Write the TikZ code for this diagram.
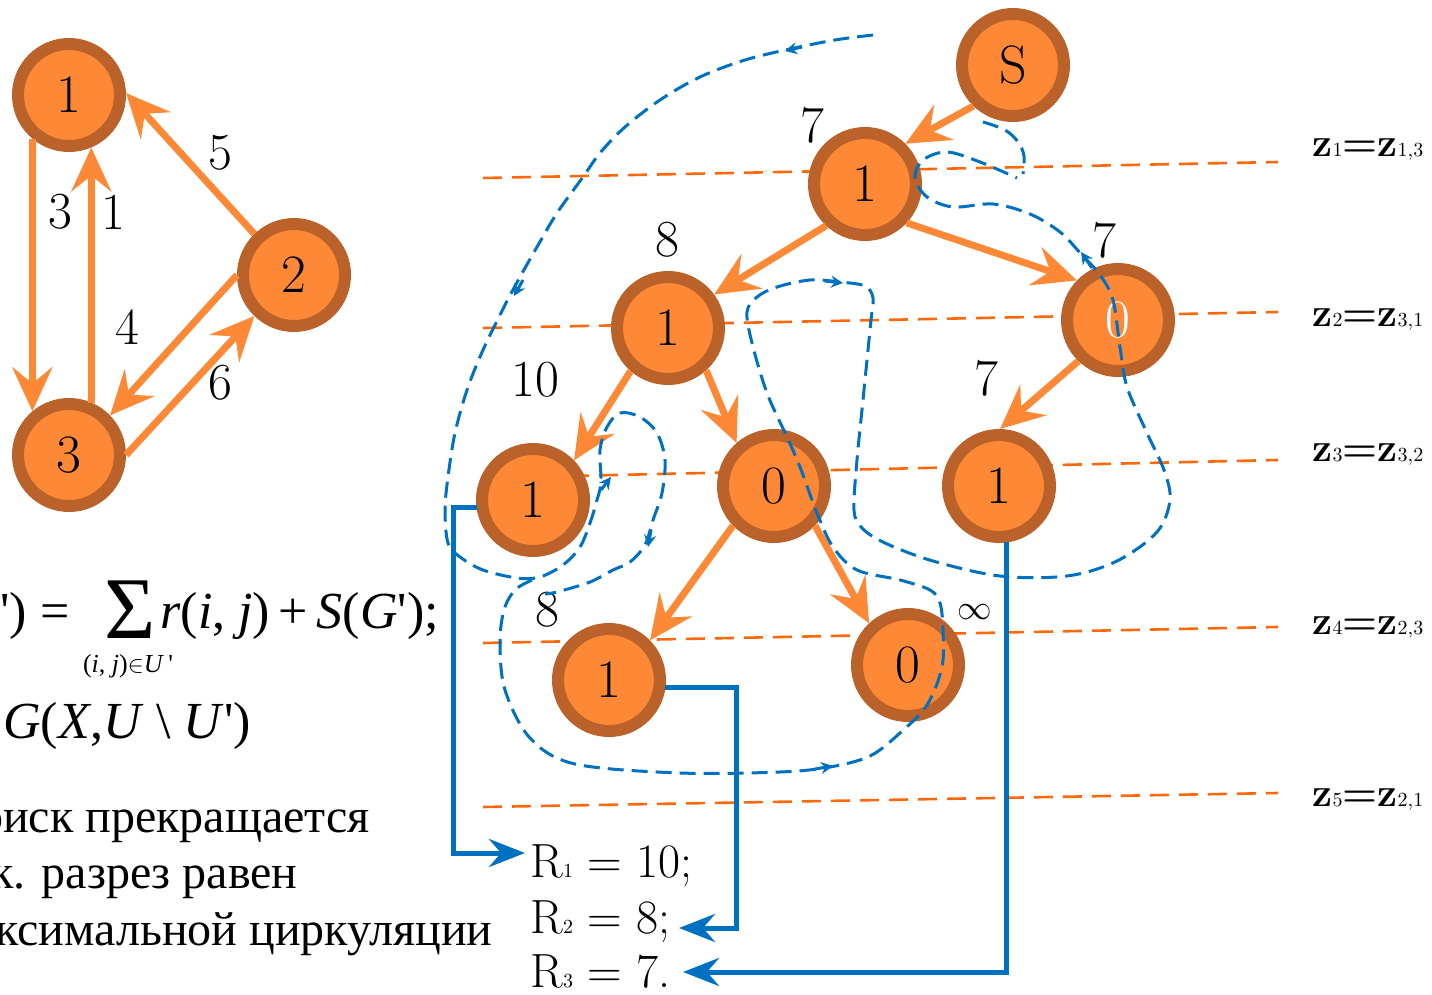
\documentclass[tikz,border=0pt]{standalone}
\usepackage{fontspec}
\usepackage{tikz}
\usetikzlibrary{arrows.meta, positioning, calc}
\newfontfamily\rufont{Liberation Serif}
\definecolor{vfill}{RGB}{253,137,54}
\definecolor{vrim}{RGB}{187,98,43}
\definecolor{cutline}{RGB}{255,104,10}
\definecolor{flow}{RGB}{0,112,192}

\begin{document}
\begin{tikzpicture}[x=0.5pt, y=-0.5pt,
  vert/.style={circle, draw=vrim, fill=vfill, line width=6pt, minimum size=51pt, inner sep=0pt, font=\fontsize{27}{27}\selectfont},
  arc/.style={vfill, line width=3.5pt, -{Stealth[length=22pt, width=20pt, inset=8pt]}},
  cut/.style={cutline, line width=1.3pt, dash pattern=on 9.5pt off 5pt},
  lbl/.style={inner sep=0pt, font=\fontsize{26}{26}\selectfont},
  zlbl/.style={inner sep=0pt, font=\fontsize{20}{20}\selectfont},
  rlbl/.style={inner sep=0pt, anchor=base west, font=\fontsize{24}{24}\selectfont},
  frm/.style={inner sep=0pt, font=\rufont\fontsize{26}{26}\selectfont},
  rutext/.style={inner sep=0pt, anchor=base east, font=\rufont\fontsize{24}{24}\selectfont},
  res/.style={flow, line width=2.5pt, -{Stealth[length=18pt, width=14pt, inset=6pt]}},
  walk/.style={flow, line width=1.5pt, dash pattern=on 8pt off 4pt},
  tick/.style={flow, line width=1.5pt, -{Stealth[length=6pt, width=6pt, inset=2pt]}},
  ]
\useasboundingbox (0,0) rectangle (1432,995);
\clip (0,0) rectangle (1432,995);

% cut lines
\draw[cut] (483,178) -- (1278,162);
\draw[cut] (483,328) -- (1278,312);
\draw[cut] (483,478) -- (1278,460);
\draw[cut] (483,643) -- (1278,627);
\draw[cut] (483,807) -- (1278,793);

% small graph
\node[vert] (v1) at (69,95) {1};
\node[vert] (v2) at (294,275) {2};
\node[vert] (v3) at (69,455) {3};
\draw[arc] (v1.230) -- (v3.130);
\draw[arc] (v3.67) -- (v1.293);
\draw[arc] (v2.134) -- (v1.2);
\draw[arc] (v2.180) -- (v3.44);
\draw[arc] (v3.0) -- (v2.226);
\node[lbl] (w5) at (220,153) {5};
\node[lbl] (w3) at (60,212) {3};
\node[lbl] (w1) at (113,212) {1};
\node[lbl] (w4) at (127,327) {4};
\node[lbl] (w6) at (220,383) {6};

% search tree
\node[vert] (s) at (1013,65) {S};
\node[vert] (a) at (865,184) {1};
\node[vert] (b) at (668,328) {1};
\node[vert] (c) at (1118,320) {\color{white}0};
\node[vert] (d) at (533,500) {1};
\node[vert] (e) at (774,486) {0};
\node[vert] (f) at (999,486) {1};
\node[vert] (g) at (609,680) {1};
\node[vert] (h) at (908,665) {0};
\draw[arc] (s.226) -- (a.45);
\draw[arc] (a.227) -- (b.36);
\draw[arc] (a.-43) -- (c.136);
\draw[arc] (b.229) -- (d.44);
\draw[arc] (b.-48) -- (e.131);
\draw[arc] (c.226) -- (f.89);
\draw[arc] (e.224) -- (g.44);
\draw[arc] (e.-44) -- (h.133);
\node[lbl] (ka) at (812,125) {7};
\node[lbl] (kb) at (667,240) {8};
\node[lbl] (kc) at (1104,240) {7};
\node[lbl] (kd) at (535,380) {10};
\node[lbl] (kf) at (986,378) {7};
\node[lbl] (kg) at (547,610) {8};
\node[lbl, font=\fontsize{18}{18}\selectfont] (kh) at (975,612) {$\infty$};

% levels
\node[zlbl] (z1) at (1368,150) {\textbf{z}{\fontsize{10}{10}\selectfont 1}\textbf{=}\textbf{z}{\fontsize{10}{10}\selectfont 1,3}};
\node[zlbl] (z2) at (1368,320) {\textbf{z}{\fontsize{10}{10}\selectfont 2}\textbf{=}\textbf{z}{\fontsize{10}{10}\selectfont 3,1}};
\node[zlbl] (z3) at (1368,455) {\textbf{z}{\fontsize{10}{10}\selectfont 3}\textbf{=}\textbf{z}{\fontsize{10}{10}\selectfont 3,2}};
\node[zlbl] (z4) at (1368,628) {\textbf{z}{\fontsize{10}{10}\selectfont 4}\textbf{=}\textbf{z}{\fontsize{10}{10}\selectfont 2,3}};
\node[zlbl] (z5) at (1368,800) {\textbf{z}{\fontsize{10}{10}\selectfont 5}\textbf{=}\textbf{z}{\fontsize{10}{10}\selectfont 2,1}};

% walk round the tree
\draw[walk] plot[smooth, tension=0.55] coordinates {(873,35) (835,40) (790,49) (745,60) (700,77) (660,100) (625,127) (600,153) (583,177) (557,213) (537,247) (520,277) (505,305) (483,350) (467,390) (455,433) (448,477) (445,510) (448,543) (460,557) (483,570) (517,578) (540,577) (563,565) (580,547) (590,523) (597,500) (601,482) (600,450) (607,427) (620,413) (640,417) (657,433) (665,460) (662,493) (653,520) (645,545) (630,562) (613,570) (590,582) (557,592) (545,594)};
\draw[walk] plot[smooth, tension=0.55] coordinates {(532,580) (515,590) (504,610) (500,643) (505,690) (530,738) (575,764) (680,773) (780,772) (830,767) (870,756) (900,733) (927,705) (942,667) (943,630) (940,603) (930,590) (900,580) (857,570) (833,547) (817,513) (800,467) (787,437) (767,393) (752,343) (747,312) (757,297) (777,287) (810,280) (840,282) (865,286) (873,298) (871,320) (867,360) (862,410) (857,460) (854,510) (862,528) (885,543) (933,561) (1000,576) (1067,576) (1117,561) (1157,532) (1170,500) (1164,470) (1147,433) (1127,387) (1120,347) (1113,300) (1100,275) (1082,255) (1060,232) (1030,214) (993,204) (953,207) (927,197) (915,178) (923,160) (947,152) (980,162) (1017,178)};
\draw[walk] plot[smooth, tension=0.6] coordinates {(983,122) (1005,130) (1018,142) (1024,156) (1023,174)};
\draw[tick] (802,47) -- (785,51);
\draw[tick] (523,280) -- (514,296);
\draw[tick] (601,490) -- (611,477);
\draw[tick] (651,530) -- (648,547);
\draw[tick] (825,281) -- (843,283);
\draw[tick] (815,769) -- (833,766);
\draw[tick] (1092,268) -- (1081,252);

% formula and text
\node[frm, anchor=base east] (f1) at (70,628) {\itshape S\upshape(\itshape G\upshape')\ =};
\node[frm, font=\rufont\fontsize{44}{44}\selectfont] (sig) at (130,610) {Σ};
\node[frm, font=\rufont\fontsize{13}{13}\selectfont] (sub) at (128,666) {(\textit{i}, \textit{j})$\in$\textit{U}\,'};
\node[frm, anchor=base west] (f2) at (160,628) {\textit{r}(\textit{i}, \textit{j})\,+\,\textit{S}(\textit{G}');};
\node[frm, anchor=base west] (f3) at (3,738) {\textit{G}(\textit{X},\textit{U} \textbackslash\ \textit{U}')};
\node[rutext] (t1) at (370,832) {Поиск прекращается};
\node[rutext] (t2) at (298,888) {т.к. разрез равен};
\node[rutext] (t3) at (493,945) {максимальной циркуляции};

% results
\node[rlbl] (r1) at (530,877) {R{\fontsize{10}{10}\selectfont 1} = 10;};
\node[rlbl] (r2) at (530,933) {R{\fontsize{10}{10}\selectfont 2} = 8;};
\node[rlbl] (r3) at (530,987) {R{\fontsize{10}{10}\selectfont 3} = 7.};
\coordinate (r1in) at ([xshift=-2.5pt,yshift=12pt]r1.base west);
\coordinate (r2in) at ([xshift=4pt,yshift=2.5pt]r2.base east);
\coordinate (r3in) at ([xshift=6pt,yshift=7.5pt]r3.base east);
\draw[res] (d.188) -| ($(r1in)+(-72,0)$) -- (r1in);
\draw[res] (g.-8) -| ($(r2in)+(57,0)$) -- (r2in);
\draw[res] (f.-82) |- (r3in);
\end{tikzpicture}
\end{document}
